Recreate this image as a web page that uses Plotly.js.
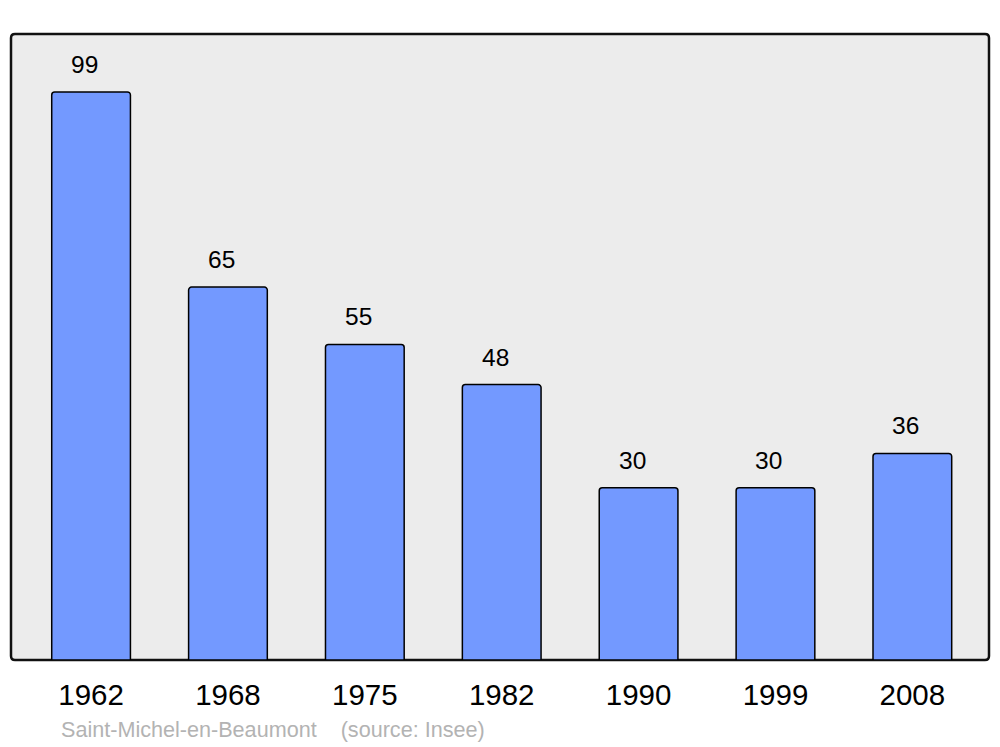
<!DOCTYPE html>
<html><head><meta charset="utf-8">
<script src="https://cdn.plot.ly/plotly-3.0.1.min.js"></script>
<style>html,body{margin:0;padding:0;background:#fff}#c{width:1000px;height:747px}</style>
</head><body><div id="c"></div>
<script>
const years = ["1962","1968","1975","1982","1990","1999","2008"];
const population = [99,65,55,48,30,30,36];
const footer = "Saint-Michel-en-Beaumont    (source: Insee)";

const rx = 4/978, ry = 4/626;
const framePath = `M ${rx},0 L ${1-rx},0 Q 1,0 1,${ry} L 1,${1-ry} Q 1,1 ${1-rx},1 L ${rx},1 Q 0,1 0,${1-ry} L 0,${ry} Q 0,0 ${rx},0 Z`;

const data = [{
  type: 'bar',
  x: years,
  y: population,
  width: 0.575,
  marker: {color: '#7399ff', line: {color: '#000', width: 1.5}, cornerradius: 3},
  hoverinfo: 'none'
}];

const annotations = years.map((yr, i) => ({
  x: i, y: population[i], xref: 'x', yref: 'y',
  text: String(population[i]), showarrow: false,
  yanchor: 'bottom', yshift: 12, xshift: -6.5,
  font: {family: 'Liberation Sans, Arial, sans-serif', size: 24.5, color: '#000'}
}));
annotations.push({
  xref: 'paper', yref: 'paper', x: 0.0491, y: -0.1118,
  xanchor: 'left', yanchor: 'middle', showarrow: false,
  text: footer.replace(/ /g, '&nbsp;'),
  font: {family: 'Liberation Sans, Arial, sans-serif', size: 21.6, color: '#b3b3b3'}
});

const layout = {
  width: 1000, height: 747,
  margin: {l: 11, r: 11, t: 34, b: 87, pad: 0},
  paper_bgcolor: '#fff',
  plot_bgcolor: 'rgba(0,0,0,0)',
  showlegend: false,
  xaxis: {
    type: 'category', range: [-0.585, 6.56],
    showgrid: false, zeroline: false, showline: false,
    ticks: '', ticklabelstandoff: 14,
    tickfont: {family: 'Liberation Sans, Arial, sans-serif', size: 29.5, color: '#000'},
    fixedrange: true
  },
  yaxis: {
    range: [0, 109.1], visible: false, showgrid: false, zeroline: false, fixedrange: true
  },
  shapes: [{
    type: 'path', xref: 'paper', yref: 'paper', path: framePath,
    fillcolor: '#ececec', line: {color: '#111', width: 2.5}, layer: 'below'
  }],
  annotations: annotations
};
Plotly.newPlot('c', data, layout, {displayModeBar: false, staticPlot: true});
</script></body></html>
